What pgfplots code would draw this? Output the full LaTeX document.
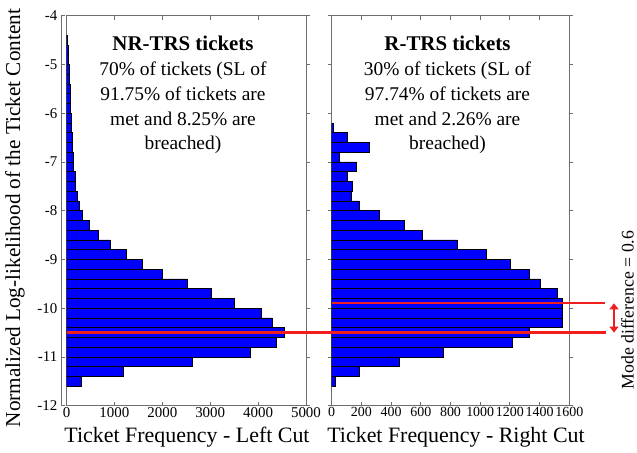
\documentclass[border=0pt]{standalone}
\usepackage{fontspec}
\setmainfont{Liberation Serif}
\usepackage{pgfplots}
\pgfplotsset{compat=1.18}
\usetikzlibrary{arrows.meta}

\definecolor{spine}{RGB}{110,110,110}
\definecolor{barblue}{RGB}{0,0,255}
\definecolor{modered}{RGB}{240,30,30}

% Left cut: bin centre (log-likelihood), ticket count
\pgfplotstableread{
y      n
-4.5   25
-4.7   35
-4.9   45
-5.1   55
-5.3   60
-5.5   70
-5.7   75
-5.9   80
-6.1   90
-6.3   100
-6.5   115
-6.7   120
-6.9   145
-7.1   150
-7.3   175
-7.5   180
-7.7   220
-7.9   260
-8.1   340
-8.3   470
-8.5   673
-8.7   917
-8.9   1250
-9.1   1576
-9.3   2007
-9.5   2514
-9.7   3028
-9.9   3500
-10.1  4070
-10.3  4295
-10.5  4540
-10.7  4390
-10.9  3840
-11.1  2632
-11.3  1194
-11.5  306
}\leftcut

% Right cut: bin centre (log-likelihood), ticket count
\pgfplotstableread{
y      n
-6.3   8
-6.5   108
-6.7   253
-6.9   49
-7.1   164
-7.3   105
-7.5   141
-7.7   135
-7.9   184
-8.1   319
-8.3   489
-8.5   610
-8.7   846
-8.9   1044
-9.1   1201
-9.3   1331
-9.5   1403
-9.7   1519
-9.9   1556
-10.1  1555
-10.3  1553
-10.5  1329
-10.7  1218
-10.9  752
-11.1  455
-11.3  184
-11.5  27
}\rightcut

\newcommand{\tickfont}{\fontsize{15}{15}\selectfont}
\newcommand{\labfont}{\fontsize{22}{22}\selectfont}
\newcommand{\ttlfont}{\fontsize{19.5}{25}\selectfont}

\pgfplotsset{
  hist/.style={
    scale only axis, height=390bp,
    ymin=-12, ymax=-4,
    axis line style={spine, line width=0.9pt},
    tick style={spine, line width=0.9pt},
    tick align=inside, major tick length=4bp,
    ytick={-12,-11,...,-4}, yticklabels={},
    ticklabel style={font=\tickfont},
    xticklabel style={inner sep=1.5bp},
    xbar, bar width=0.2,
  },
  bars/.style={fill=barblue, draw=black, line width=0.6pt},
}

\begin{document}
\begin{tikzpicture}
\useasboundingbox (-66.5bp,-47.3bp) rectangle (570.5bp,405.7bp);

% outer value axis with the log-likelihood scale
\begin{axis}[
  at={(-5.5bp,0)}, anchor=south west,
  scale only axis, width=1bp, height=390bp,
  xmin=0, xmax=1, ymin=-12, ymax=-4,
  hide x axis, axis y line*=left,
  axis line style={spine, line width=0.9pt},
  tick style={spine, line width=0.9pt},
  tick align=inside, major tick length=4bp,
  ytick={-12,-11,...,-4},
  yticklabels={-12,-11,-10,-9,-8,-7,-6,-5,-4},
  yticklabel style={font=\tickfont, inner sep=3.5bp},
]
\end{axis}

% left cut histogram
\begin{axis}[hist,
  at={(0,0)}, anchor=south west, width=239.5bp,
  xmin=0, xmax=5000,
  xtick={0,1000,...,5000},
  xticklabels={0,1000,2000,3000,4000,5000},
  ytick pos=right,
]
\addplot[bars] table[x=n, y=y] {\leftcut};
\coordinate (Lmode) at (axis cs:0,-10.5);
\end{axis}

% right cut histogram
\begin{axis}[hist,
  at={(265.2bp,0)}, anchor=south west, width=237.6bp,
  xmin=0, xmax=1600,
  xtick={0,200,...,1600},
  xticklabels={0,200,400,600,800,1000,1200,1400,1600},
  xticklabel style={font=\fontsize{14}{14}\selectfont},
]
\addplot[bars] table[x=n, y=y] {\rightcut};
\coordinate (Rmode) at (axis cs:0,-9.9);
\end{axis}

% mode lines and their distance
\draw[modered, line width=2.2bp] (Lmode) -- ++(539bp,0);
\draw[modered, line width=2.2bp] (Rmode) -- ++(273.3bp,0);
\coordinate (A) at (547.5bp,0);
\draw[modered, line width=2.6bp, {Triangle[width=9bp,length=6bp]}-{Triangle[width=9bp,length=6bp]}]
  (A |- Lmode) -- (A |- Rmode);
\node[rotate=90, anchor=base, inner sep=0pt, font=\fontsize{17.8}{17.8}\selectfont]
  at (567bp,95.7bp) {Mode difference = 0.6};

% titles inside the panels
\node[align=center, font=\ttlfont] at (116.5bp,310.7bp)
  {{\fontsize{21}{25}\selectfont\textbf{NR-TRS tickets}}\\70\% of tickets (SL of\\91.75\% of tickets are\\met and 8.25\% are\\breached)};
\node[align=center, font=\ttlfont] at (381bp,310.7bp)
  {{\fontsize{21}{25}\selectfont\textbf{R-TRS tickets}}\\30\% of tickets (SL of\\97.74\% of tickets are\\met and 2.26\% are\\breached)};

% axis titles
\node[font=\labfont] at (120.5bp,-31.3bp) {Ticket Frequency - Left Cut};
\node[font=\labfont] at (389.5bp,-31.3bp) {Ticket Frequency - Right Cut};
\node[rotate=90, font=\fontsize{21.3}{21.3}\selectfont] at (-51.5bp,187.7bp)
  {Normalized Log-likelihood of the Ticket Content};
\end{tikzpicture}
\end{document}
